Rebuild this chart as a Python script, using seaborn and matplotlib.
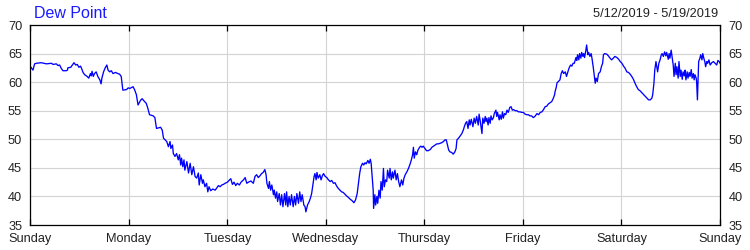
import matplotlib
matplotlib.use("Agg")
import matplotlib.pyplot as plt
import seaborn as sns
import pandas as pd

# ---- data (hours since Sunday 00:00, dew point in °F) ----
hours = [
    0.0, 0.6, 1.0, 1.4, 2.6, 3.9, 5.1, 5.5, 6.3, 6.7, 7.1, 7.5, 7.9, 8.7, 9.0, 9.1, 9.8, 10.2, 10.6, 11.0,
    11.4, 11.8, 12.2, 12.5, 12.8, 13.2, 13.8, 14.2, 14.6, 14.8, 15.0, 15.3, 15.6, 16.0, 16.4, 16.9, 17.2, 17.4,
    17.8, 18.2, 18.6, 18.9, 19.3, 19.7, 20.1, 20.7, 21.3, 21.7, 22.1, 22.5, 23.4, 23.8, 24.2, 25.0, 25.4, 25.8,
    26.2, 26.8, 27.2, 27.8, 28.2, 28.6,
    29.0, 29.9, 30.3, 30.7, 31.2, 31.7, 32.1, 32.4, 32.8, 33.2, 33.6, 34.0, 34.2, 34.6, 34.8, 35.2, 35.6, 36.0,
    36.3, 36.6, 36.8, 37.1, 37.4, 37.6, 38.1, 38.5, 38.9, 39.3, 39.7, 40.1, 40.5, 40.9, 41.1, 41.5, 41.9, 42.1,
    42.5, 42.9, 43.2, 43.5, 43.9, 44.4, 45.0, 45.4, 45.8, 46.2, 46.6, 47.0, 47.4, 48.0, 48.5, 48.8, 49.2, 49.6,
    50.0, 50.4, 50.9, 51.3, 51.9, 52.3, 52.7, 53.1, 53.7, 54.3,
    54.7, 55.1, 55.5, 55.9, 56.3, 56.7, 57.1, 57.4, 57.6, 58.0, 58.2, 58.5, 58.8, 59.2, 59.4, 59.7, 60.0, 60.2,
    60.6, 60.9, 61.2, 61.5, 61.9, 62.2, 62.4, 62.7, 63.0, 63.3, 63.6, 64.0, 64.3, 64.6, 64.9, 65.3, 65.6, 65.9,
    66.2, 66.6, 66.9, 67.1, 67.5, 67.9, 68.2, 68.5, 68.8, 69.1, 69.3, 69.6, 69.8, 70.1, 70.5, 70.8, 71.1, 71.4,
    71.8, 72.2, 72.6, 73.0, 73.4, 73.8, 74.2, 74.6, 75.0, 75.4, 75.8, 76.2, 76.6, 77.0, 77.5, 77.9, 78.3, 78.8,
    79.2, 79.6, 79.9, 80.2, 80.5, 80.9, 81.2, 81.5, 81.8, 82.2, 82.5, 82.8,
    83.0, 83.2, 83.5, 83.6, 83.9, 84.1, 84.4, 84.6, 84.9, 85.2, 85.4, 85.7, 86.0, 86.2, 86.5, 86.8, 87.0, 87.4,
    87.6, 87.9, 88.2, 88.4, 88.8, 89.1, 89.4, 89.7, 90.0, 90.4, 90.7, 91.0, 91.3, 91.7, 92.1, 92.5, 92.8, 93.1,
    93.3, 93.5, 93.8, 94.1, 94.4, 94.8, 95.1, 95.4, 95.7, 96.1, 96.5, 96.9, 97.4, 97.8, 98.2, 98.6, 99.0, 99.4,
    99.8, 100.2, 100.6, 101.0, 101.3, 101.6, 101.9, 102.2, 102.6, 103.0, 103.4, 103.7, 103.9, 104.3, 104.7,
    105.1, 105.5, 105.7, 106.0, 106.3, 106.6, 106.9, 107.1, 107.4, 107.8, 108.1, 108.4, 108.7, 109.1, 109.3,
    109.6, 110.0, 110.2, 110.5,
    110.8, 111.0, 111.2, 111.5, 111.7, 112.0, 112.2, 112.5, 112.8, 113.0, 113.4, 113.6, 113.8, 114.2, 114.4,
    114.7, 115.0, 115.2, 115.5, 115.8, 116.1, 116.4, 116.8, 117.1, 117.4, 117.7, 118.1, 118.5, 118.9, 119.3,
    119.7, 120.1, 120.5, 120.9, 121.3, 121.7, 122.1, 122.5, 122.9, 123.4, 123.8, 124.2, 124.6, 125.0, 125.4,
    125.8, 126.2, 126.6, 127.0, 127.4, 127.7, 127.8, 128.1, 128.3, 128.6, 129.0, 129.3, 129.6, 129.9, 130.3,
    130.6, 130.8, 131.1, 131.3, 131.6, 131.9, 132.2, 132.5, 132.9, 133.1, 133.3, 133.6, 133.8, 134.1, 134.3,
    134.6, 134.8, 135.0, 135.3, 135.5, 135.8, 136.0, 136.3, 136.6, 136.8, 137.1, 137.3, 137.6, 137.8, 138.1,
    138.4,
    138.8, 139.1, 139.4, 139.6, 139.9, 140.4, 140.8, 141.2, 141.6, 142.0, 142.4, 142.9, 143.3, 143.7, 144.1,
    144.5, 144.9, 145.3, 145.7, 146.1, 146.5, 146.9, 147.3, 147.7, 148.1, 148.5, 148.9, 149.4, 149.8, 150.2,
    150.6, 151.0, 151.4, 151.6, 151.9, 152.1, 152.4, 152.6, 152.8, 153.1, 153.4, 153.7, 153.9, 154.2, 154.5,
    154.8, 155.0, 155.4, 155.6, 155.8, 156.1, 156.3, 156.6, 156.8, 157.1, 157.3, 157.5, 157.8, 158.0, 158.3,
    158.5, 158.8, 159.0, 159.3, 159.5, 159.7, 160.0, 160.2, 160.5, 160.7, 161.0, 161.2, 161.5, 161.7, 161.9,
    162.2, 162.3, 162.5, 162.7, 162.8, 163.1, 163.3, 163.6, 163.8, 164.05, 164.3, 164.5, 164.8, 165.0, 165.3,
    165.6, 166.0, 166.4, 166.8, 167.2, 167.5, 167.8, 168.0,
]
dew_point = [
    62.7, 62.1, 63.2, 63.3, 63.4, 63.2, 63.3, 63.1, 63.2, 62.9, 63.0, 62.4, 62.0, 62.0, 62.1, 62.5, 62.6, 63.0, 63.4, 63.0,
    63.1, 62.6, 62.8, 62.3, 61.7, 61.3, 61.0, 60.7, 61.5, 61.1, 61.9, 61.0, 61.5, 61.8, 61.0, 60.4, 59.7, 60.7,
    61.8, 62.5, 63.0, 62.1, 61.8, 62.0, 61.5, 61.7, 61.5, 61.4, 61.0, 58.6, 58.7, 59.0, 58.9, 59.2, 58.6, 57.8,
    56.0, 56.8, 57.1, 56.6, 56.3, 55.4,
    54.3, 54.1, 53.8, 51.9, 52.0, 52.1, 51.6, 50.2, 49.9, 49.6, 48.7, 49.6, 48.4, 49.0, 47.5, 47.0, 47.5, 46.4,
    47.3, 45.5, 46.7, 45.2, 46.4, 44.6, 46.1, 44.1, 45.8, 43.8, 45.2, 43.5, 43.2, 44.1, 42.0, 43.8, 42.3, 42.9,
    41.7, 42.3, 40.8, 41.7, 41.0, 41.3, 41.1, 41.5, 41.9, 41.7, 42.0, 42.1, 42.3, 42.5, 42.9, 43.1, 42.1, 42.5,
    41.9, 42.3, 42.0, 42.5, 42.9, 43.3, 42.3, 42.5, 42.7, 42.3,
    43.5, 43.8, 43.3, 43.6, 44.0, 44.2, 44.7, 43.8, 42.3, 41.4, 42.6, 41.1, 42.0, 40.3, 41.1, 39.7, 40.8, 39.1,
    40.5, 38.5, 40.3, 38.2, 40.5, 38.5, 40.8, 38.2, 40.0, 38.5, 40.3, 38.2, 40.0, 38.5, 40.5, 38.8, 40.8, 39.1,
    40.3, 38.5, 38.2, 37.3, 38.5, 39.1, 39.7, 40.5, 42.0, 43.5, 44.0, 42.9, 44.2, 43.2, 43.8, 42.9, 43.6, 44.0,
    43.5, 43.3, 42.9, 42.6, 42.8, 42.3, 42.4, 41.8, 41.4, 41.1, 40.8, 40.7, 40.4, 40.1, 39.8, 39.5, 39.3, 38.9,
    39.4, 40.5, 42.3, 44.0, 45.2, 45.8, 45.5, 45.9, 45.7, 46.3, 45.8, 46.5,
    45.8, 44.0, 41.1, 37.9, 40.3, 38.5, 40.0, 38.8, 41.1, 39.7, 42.6, 41.1, 44.9, 41.7, 42.9, 42.6, 44.6, 43.2,
    44.9, 42.9, 44.3, 43.2, 44.6, 42.9, 44.0, 42.6, 41.7, 42.9, 42.0, 43.2, 43.8, 44.3, 44.9, 45.7, 46.4, 47.3,
    48.6, 46.7, 47.8, 47.3, 48.1, 48.6, 48.8, 48.6, 48.8, 48.4, 48.0, 48.0, 48.2, 48.6, 48.8, 49.0, 49.2, 49.2,
    49.3, 49.4, 49.6, 49.9, 49.9, 49.0, 48.1, 47.8, 47.7, 47.4, 47.8, 48.4, 49.9, 50.2, 50.6,
    51.0, 51.7, 52.2, 52.8, 53.1, 51.9, 53.4, 52.5, 53.5, 52.2, 53.7, 52.8, 54.0, 52.5, 54.4,
    53.1, 51.0, 53.7, 52.8,
    54.0, 53.1, 53.7, 52.5, 53.8, 52.8, 54.1, 53.4, 53.8, 54.5, 55.1, 54.0, 54.7, 53.4, 54.3,
    53.5, 54.8, 53.7, 54.5, 54.3, 55.1, 54.7, 55.6, 55.7, 55.1, 55.2, 55.0, 55.0, 54.8, 54.8,
    54.7, 54.7, 54.4, 54.3, 54.3, 54.1, 54.1, 53.8, 54.0, 54.5, 54.3, 54.7, 54.8, 55.2, 55.7,
    55.8, 56.2, 56.4, 56.6, 57.2, 57.8, 58.3, 59.1, 59.9, 60.1, 60.4, 61.5, 62.0, 61.5, 61.8,
    61.0, 61.5, 62.2, 62.6, 63.0, 62.8, 63.3, 63.3, 64.3, 63.8, 64.8, 63.9, 65.0, 64.2, 65.2,
    64.5, 65.0, 64.3, 65.5, 66.5, 64.8, 65.2, 64.5, 65.0, 64.2, 62.7, 61.5, 59.8, 60.7, 60.1,
    61.5,
    61.8, 62.7, 63.3, 64.8, 65.0, 64.9, 64.6, 64.2, 63.9, 64.2, 64.5, 64.3, 64.0, 63.6, 63.3,
    62.8, 62.4, 61.8, 61.7, 61.4, 61.0, 60.5, 59.8, 59.2, 58.7, 58.5, 58.2, 57.8, 57.5, 57.2,
    56.9, 56.9, 57.2, 57.8, 59.8, 62.1, 63.6, 62.7, 61.8, 63.3, 63.9, 64.8, 65.0, 64.5, 65.3,
    64.6, 65.2, 64.0, 65.0, 64.2, 65.6, 64.5, 63.0, 61.0, 63.3, 61.3, 62.7, 60.7, 63.6, 61.0,
    62.1, 60.5, 61.8, 61.1, 62.1, 60.4, 61.8, 60.7, 61.7, 61.0, 62.2, 60.7, 61.5, 60.4, 61.3,
    60.7, 60.1, 56.9, 61.0, 63.6, 64.2, 64.8, 63.9, 65.0, 64.2, 63.6, 62.7, 63.6, 63.3, 63.9,
    63.0, 63.4, 63.6, 63.3, 63.0, 63.8, 63.6, 63.3,
]
day_labels = ["Sunday", "Monday", "Tuesday", "Wednesday", "Thursday", "Friday", "Saturday", "Sunday"]
day_ticks = [0, 24, 48, 72, 96, 120, 144, 168]
y_ticks = [35, 40, 45, 50, 55, 60, 65, 70]
title_text = "Dew Point"
range_text = "5/12/2019 - 5/19/2019"

df = pd.DataFrame({"hour": hours, "dew": dew_point})

sns.set_style("white")
plt.rcParams["font.family"] = ["Liberation Sans", "DejaVu Sans"]

fig = plt.figure(figsize=(7.5, 2.5), dpi=100)
ax = fig.add_axes([30.5 / 750, 25 / 250, (720 - 30.5) / 750, 200 / 250])

sns.lineplot(data=df, x="hour", y="dew", ax=ax, color="#0000FF", linewidth=0.95,
             estimator=None, sort=False)

ax.set_xlim(0, 168)
ax.set_ylim(35, 70)
ax.set_xticks(day_ticks)
ax.set_xticklabels(day_labels)
ax.set_yticks(y_ticks)
ax.set_yticklabels([str(v) for v in y_ticks])
ax.set_xlabel("")
ax.set_ylabel("")

ax.grid(True, color="#D3D3D3", linewidth=0.8)
ax.set_axisbelow(True)
for s in ax.spines.values():
    s.set_visible(True)
    s.set_color("black")
    s.set_linewidth(0.9)

ax.tick_params(axis="x", which="both", direction="in", length=4, width=0.9, color="black",
               top=True, bottom=True, labeltop=False, labelbottom=True, pad=6,
               labelsize=9.2, labelcolor="#222222")
ax.tick_params(axis="y", which="both", length=0, left=True, right=True,
               labelleft=True, labelright=True, pad=6, labelsize=9.2, labelcolor="#222222")

fig.text(34 / 750, 1 - 17.5 / 250, title_text, color="#1A1AFF", fontsize=11.5,
         ha="left", va="baseline")
fig.text(718 / 750, 1 - 17 / 250, range_text, color="#222222", fontsize=9.2,
         ha="right", va="baseline")

fig.savefig("out.png", dpi=100)
